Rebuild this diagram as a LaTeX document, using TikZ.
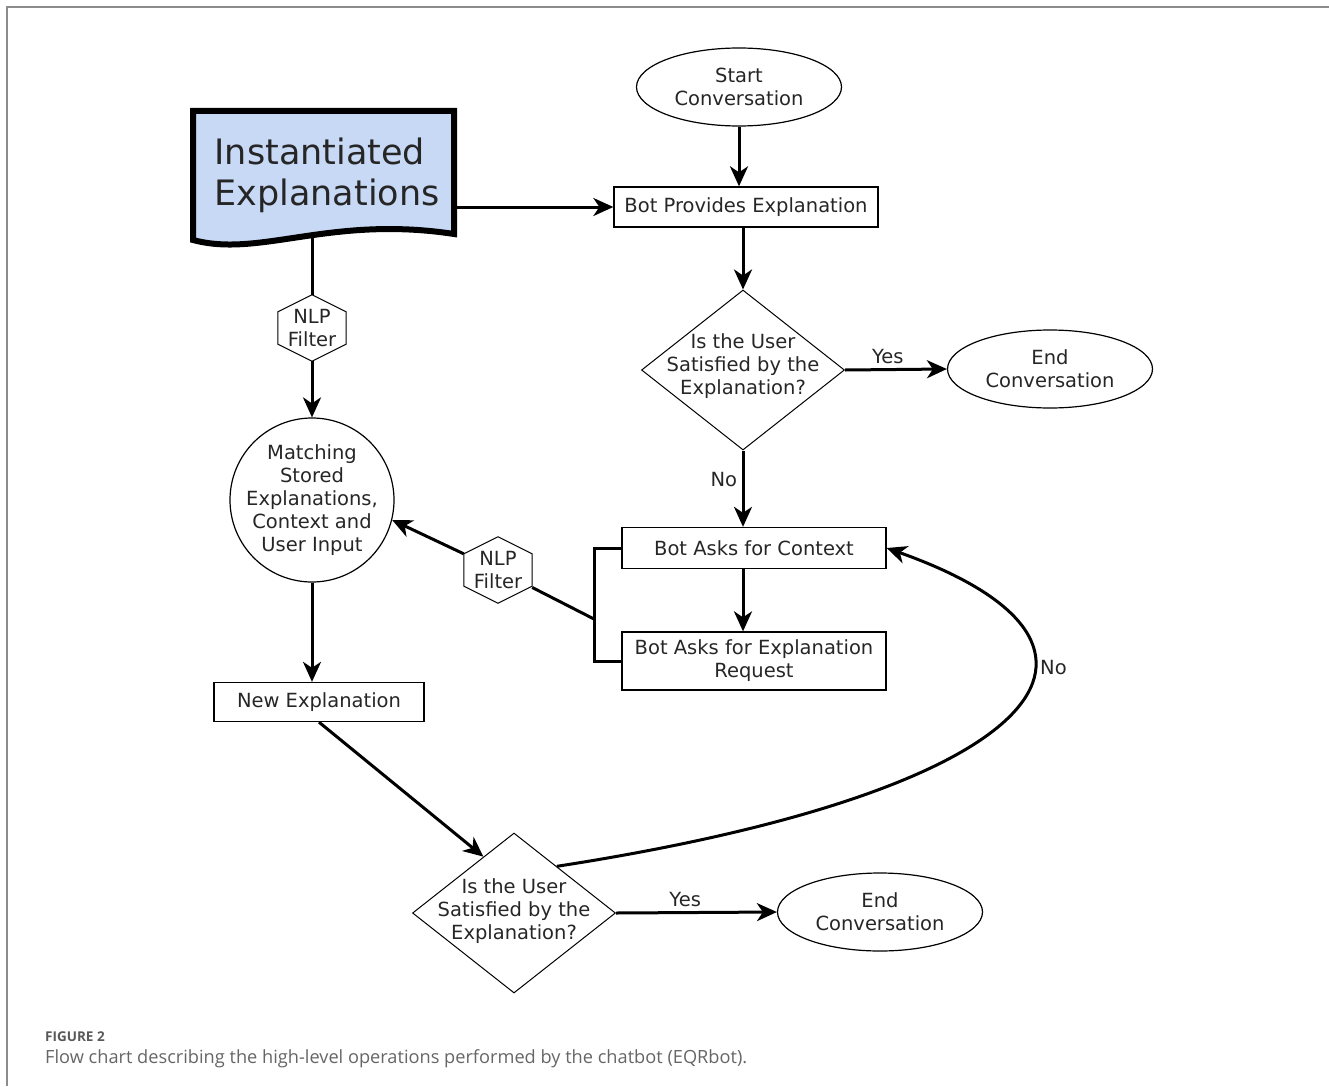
\documentclass[tikz,border=0pt]{standalone}
\usepackage{fontspec}
\setmainfont{DejaVu Sans}
\newfontfamily\capfont{Open Sans}
\usepackage{xcolor}
\usetikzlibrary{arrows.meta, shapes.geometric, positioning, calc}
\definecolor{docblue}{HTML}{C8D9F6}
\definecolor{framegray}{HTML}{8C8C8C}

\begin{document}
\begin{tikzpicture}[x=1pt, y=-1pt,
  every node/.style={font=\fontsize{19.5}{23}\selectfont, text=black!85, align=center},
  box/.style={draw, line width=1.3pt, inner sep=0pt},
  oval/.style={draw, ellipse, line width=1.2pt, inner sep=0pt,
               minimum width=205pt, minimum height=78pt},
  ask/.style={draw, diamond, line width=1pt, inner sep=0pt,
              minimum width=203pt, minimum height=160pt},
  filt/.style={inner sep=0pt, minimum width=68pt, minimum height=66pt},
  link/.style={line width=3pt, -{Stealth[length=20pt, width=18pt, inset=6pt]}},
  bar/.style={line width=3pt},
  captext/.style={anchor=west, inner sep=0pt}]
\useasboundingbox (0,0) rectangle (1329,1086);
%
\draw[framegray, line width=2.5pt] (1329,7) -- (7,7) -- (7,1086);
%
% instantiated explanations (document shape)
\draw[line width=6pt, fill=docblue, line join=miter]
  (193,111) -- (454,111) -- (454,234)
  .. controls (330,215) and (260,258) .. (193,240) -- cycle;
\node[anchor=west, align=left, font=\fontsize{35}{41}\selectfont] (inst) at (211,175)
  {Instantiated\\Explanations};
\coordinate (docb) at (312,236);
\coordinate (docr) at (454,207);
%
\node[oval] (start) at (739,87) {Start\\Conversation};
\node[box, minimum width=264pt, minimum height=40pt] (bpe) at (746,207) {Bot Provides Explanation};
\node[ask] (q1) at (743,370) {};
\node (q1t) at ([yshift=4pt]q1.center) {Is the User\\Satisfied by the\\Explanation?};
\node[oval] (end1) at (1050,369) {End\\Conversation};
\node[box, minimum width=264pt, minimum height=41pt] (ctx) at (754,548) {Bot Asks for Context};
\node[box, minimum width=264pt, minimum height=58pt] (req) at (754,661) {Bot Asks for Explanation\\Request};
%
\node[filt] (fa) at (312,328) {NLP\\Filter};
\node[filt] (fb) at (498,570) {NLP\\Filter};
\foreach \h in {fa,fb}
  \draw[line width=1pt] (\h.north) -- ([yshift=-17pt]\h.north east) -- ([yshift=17pt]\h.south east)
    -- (\h.south) -- ([yshift=17pt]\h.south west) -- ([yshift=-17pt]\h.north west) -- cycle;
%
\node[draw, circle, line width=1.2pt, minimum size=164pt, inner sep=0pt] (match) at (312,500) {};
\node (matcht) at (match) {Matching\\Stored\\Explanations,\\Context and\\User Input};
\node[box, minimum width=210pt, minimum height=39pt] (newx) at (319,702) {New Explanation};
\node[ask] (q2) at (514,913) {};
\node (q2t) at ([yshift=2pt]q2.center) {Is the User\\Satisfied by the\\Explanation?};
\node[oval] (end2) at (880,912) {End\\Conversation};
%
\draw[link] (start) -- (start |- bpe.north);
\draw[link] (docr) -- (bpe.west);
\draw[link] (bpe.south -| q1) -- (q1.north);
\draw[link] (q1.east) -- (end1.west) node[pos=0.42, above=1pt] (yes1) {Yes};
\draw[link] (q1.south) -- (q1.south |- ctx.north) node[pos=0.38, left=1pt] (no1) {No};
\draw[link] (ctx.south -| q1) -- (req.north -| q1);
%
\draw[bar] (ctx.west) -- ++(-27,0) coordinate (bk1) -- (bk1 |- req.west) -- (req.west);
\coordinate (bk) at ($(bk1)!0.63!(bk1 |- req.west)$);
\draw[bar] (bk) -- (fb);
\draw[link] (fb) -- (match.-14);
%
\draw[bar] (docb) -- (fa);
\draw[link] (fa) -- (match);
\draw[link] (match) -- (match.south |- newx.north);
\draw[link] (newx.south) -- ($(q2.north)!0.3!(q2.west)$);
\draw[link] (q2.east) -- (end2.west) node[pos=0.43, above=1pt] (yes2) {Yes};
\draw[link] ($(q2.north)!0.42!(q2.east)$) .. controls (1050,790) and (1160,645) .. (ctx.east);
\node[anchor=west, inner sep=0pt] (no2) at (1040,668) {No};
%
\node[captext, text=black!65, font=\capfont\bfseries\fontsize{13.5}{16}\selectfont] (fig) at (45,1037) {FIGURE 2};
\node[captext, text=black!60, font=\capfont\fontsize{18.2}{21}\selectfont] (capt) at (45,1059)
  {Flow chart describing the high-level operations performed by the chatbot (EQRbot).};
\end{tikzpicture}
\end{document}
